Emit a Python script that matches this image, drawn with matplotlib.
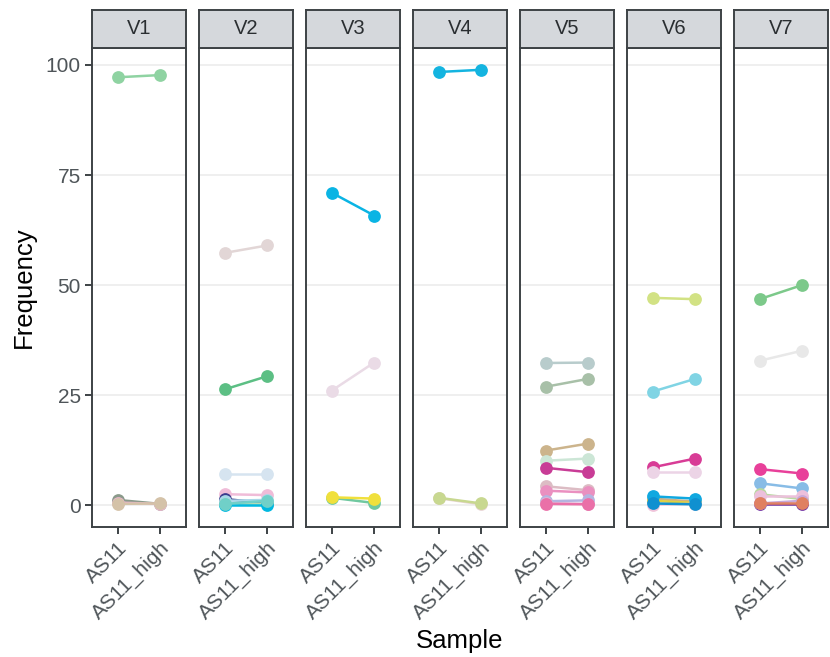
import matplotlib
matplotlib.use("Agg")
import matplotlib.pyplot as plt

plt.rcParams['font.family'] = ['Liberation Sans', 'DejaVu Sans']

panels = ["V1", "V2", "V3", "V4", "V5", "V6", "V7"]
samples = ["AS11", "AS11_high"]

# frequency of each variant in AS11 and AS11_high, one list per panel
as11 = [
    [97.2, 1.2, 0.6, 0.3],
    [57.3, 26.3, 7.0, 2.5, 1.4, 1.0, 0.2, 0.1, 0.3],
    [71.0, 26.0, 1.7, 1.8],
    [98.4, 1.6, 1.7],
    [32.3, 26.9, 12.4, 10.1, 8.5, 4.3, 3.3, 0.9, 0.5, 0.3],
    [47.1, 25.8, 8.6, 7.6, 1.5, 1.0, 0.1, 2.0, 0.4],
    [46.8, 32.8, 8.2, 5.0, 2.5, 2.0, 0.3, 0.4, 0.4],
]
high = [
    [97.7, 0.3, 0.3, 0.4],
    [59.0, 29.3, 7.0, 2.3, 0.5, 1.2, 0.4, 0.1, 1.0],
    [65.8, 32.4, 0.5, 1.5],
    [98.9, 0.2, 0.4],
    [32.4, 28.7, 14.0, 10.6, 7.5, 3.4, 2.9, 1.1, 0.3, 0.2],
    [46.8, 28.7, 10.6, 7.6, 0.8, 0.5, 0.3, 1.5, 0.2],
    [50.0, 35.1, 7.2, 3.8, 1.4, 2.0, 0.3, 1.0, 0.4],
]
colors = [
    ["#8fd3a2", "#8a9a8a", "#eab4cc", "#d4c2a8"],
    ["#e2d6d6", "#5cbf84", "#d6e4f0", "#f0bcd8", "#3c3c8c", "#a8d8e8",
     "#b4dcb4", "#00b8e0", "#70d0c8"],
    ["#0ab4e4", "#eadbe6", "#70c8a0", "#f0e03c"],
    ["#14b4e0", "#e8d4d4", "#c8d890"],
    ["#b8cccc", "#a8c0a8", "#ccb48c", "#cce6d6", "#c83c96", "#dcbcc4",
     "#ea90c0", "#b4b4e0", "#e0b4d4", "#ea70a8"],
    ["#d2e284", "#80d4e4", "#d83c96", "#ecd4e6", "#d0b080", "#e0d040",
     "#f0c4da", "#10a8e0", "#1090d0"],
    ["#7cc98a", "#e8e8e8", "#e8409a", "#88bce6", "#b8d8a0", "#ecc0dc",
     "#7030a0", "#c8a8d8", "#e08060"],
]

W, H = 830, 657
fig = plt.figure(figsize=(W / 100, H / 100), dpi=100)

left, pw, gap = 92, 93.7, 13.3
top, bottom, strip_h = 48, 527, 38
border = "#3d4245"
tick_col = "#4f5559"

for i, name in enumerate(panels):
    x0 = (left + i * (pw + gap)) / W
    ax = fig.add_axes([x0, (H - bottom) / H, pw / W, (bottom - top) / H])
    for va, vh, c in zip(as11[i], high[i], colors[i]):
        ax.plot([1, 2], [va, vh], color=c, lw=1.8, marker="o",
                markersize=9.2, markeredgewidth=0, solid_capstyle="round")
    ax.set_xlim(0.4, 2.6)
    ax.set_ylim(-4.95, 103.85)
    ax.set_yticks([0, 25, 50, 75, 100])
    ax.yaxis.grid(True, color="#ebebeb", lw=1.1)
    ax.set_axisbelow(True)
    ax.set_xticks([1, 2])
    ax.set_xticklabels(samples, rotation=45, ha="right", va="top",
                       rotation_mode="anchor", fontsize=15, color=tick_col)
    ax.tick_params(axis="x", length=5, width=1.4, color=border, pad=3)
    if i == 0:
        ax.tick_params(axis="y", length=5, width=1.4, color=border,
                       labelsize=15, labelcolor=tick_col, pad=3)
    else:
        ax.tick_params(axis="y", length=0, labelleft=False)
    for s in ax.spines.values():
        s.set_color(border)
        s.set_linewidth(1.4)

    sax = fig.add_axes([x0, (H - top) / H, pw / W, strip_h / H])
    sax.set_facecolor("#d5d8dc")
    sax.set_xticks([])
    sax.set_yticks([])
    for s in sax.spines.values():
        s.set_color(border)
        s.set_linewidth(1.4)
    sax.text(0.5, 0.5, name, ha="center", va="center", fontsize=14.5,
             color="#2a2e31", transform=sax.transAxes)

fig.text(24 / W, 1 - 287 / H, "Frequency", rotation=90, ha="center",
         va="center", fontsize=18.5)
fig.text(460 / W, 1 - 641 / H, "Sample", ha="center", va="center",
         fontsize=18.5)

fig.savefig("out.png", dpi=100)
